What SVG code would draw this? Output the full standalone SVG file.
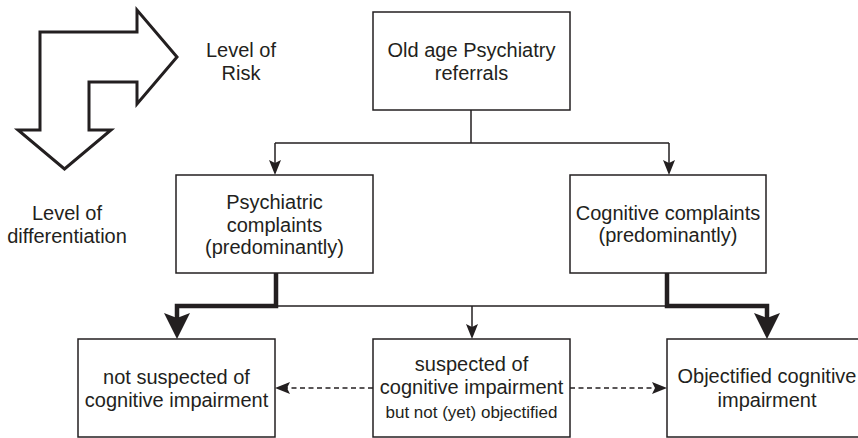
<svg xmlns="http://www.w3.org/2000/svg" width="858" height="438" viewBox="0 0 858 438">
<defs>
<style>
.box{fill:#fff;stroke:#231f20;stroke-width:1.5}
.t{font-family:"Liberation Sans",Arial,sans-serif;font-size:20px;fill:#231f20;text-anchor:middle}
.s{font-size:17px}
.thin{fill:none;stroke:#231f20;stroke-width:1.5}
.thick{fill:none;stroke:#231f20;stroke-width:4.5;stroke-linejoin:miter}
.dash{fill:none;stroke:#231f20;stroke-width:1.5;stroke-dasharray:5 3.5}
</style>
<marker id="ah" markerUnits="userSpaceOnUse" markerWidth="15" markerHeight="12" refX="3" refY="6" orient="auto" overflow="visible">
<path d="M0,0 L15,6 L0,12 L3,6 Z" fill="#231f20"/>
</marker>
<marker id="ahb" markerUnits="userSpaceOnUse" markerWidth="26" markerHeight="26" refX="5" refY="13" orient="auto" overflow="visible">
<path d="M0,0 L26,13 L0,26 L5,13 Z" fill="#231f20"/>
</marker>
</defs>
<rect width="858" height="438" fill="#fff"/>

<g id="risk-arrow">
<polygon points="40,32 137,32 137,10 177,57 137,104 137,82 89,82 89,130 111,130 64.5,169 18,130 40,130" fill="#fff" stroke="#231f20" stroke-width="3" stroke-linejoin="miter"/>
</g>
<g id="label-risk">
<text class="t" x="241" y="57">Level of</text>
<text class="t" x="241" y="80">Risk</text>
</g>
<g id="label-diff">
<text class="t" x="67" y="220">Level of</text>
<text class="t" x="67" y="243">differentiation</text>
</g>

<g id="connectors">
<path class="thin" d="M471,110 V143 M275,143 H669"/>
<path class="thin" d="M275,143 V163" marker-end="url(#ah)"/>
<path class="thin" d="M669,143 V163" marker-end="url(#ah)"/>
<path class="thick" d="M276,273 V306 H177 V318" marker-end="url(#ahb)"/>
<path class="thick" d="M667,273 V306 H767 V318" marker-end="url(#ahb)"/>
<path class="thin" d="M276,306 H667"/>
<path class="thin" d="M472,306 V327" marker-end="url(#ah)"/>
<path class="dash" d="M373,388 H287" marker-end="url(#ah)"/>
<path class="dash" d="M570,388 H655" marker-end="url(#ah)"/>
</g>

<g id="node-referrals">
<rect class="box" x="373" y="12" width="197" height="98"/>
<text class="t" x="471.5" y="57">Old age Psychiatry</text>
<text class="t" x="471.5" y="80">referrals</text>
</g>
<g id="node-psychiatric">
<rect class="box" x="176" y="175" width="197" height="98"/>
<text class="t" x="274.5" y="209">Psychiatric</text>
<text class="t" x="274.5" y="232">complaints</text>
<text class="t" x="274.5" y="254">(predominantly)</text>
</g>
<g id="node-cognitive">
<rect class="box" x="570" y="175" width="196" height="98"/>
<text class="t" x="668" y="220">Cognitive complaints</text>
<text class="t" x="668" y="242">(predominantly)</text>
</g>
<g id="node-not-suspected">
<rect class="box" x="78" y="339" width="197" height="98"/>
<text class="t" x="176.5" y="384">not suspected of</text>
<text class="t" x="176.5" y="407">cognitive impairment</text>
</g>
<g id="node-suspected">
<rect class="box" x="373" y="339" width="197" height="98"/>
<text class="t" x="471.5" y="371">suspected of</text>
<text class="t" x="471.5" y="394">cognitive impairment</text>
<text class="t s" x="471.5" y="418">but not (yet) objectified</text>
</g>
<g id="node-objectified">
<rect class="box" x="667" y="339" width="197" height="98"/>
<text class="t" x="767" y="383">Objectified cognitive</text>
<text class="t" x="767" y="407">impairment</text>
</g>
</svg>
